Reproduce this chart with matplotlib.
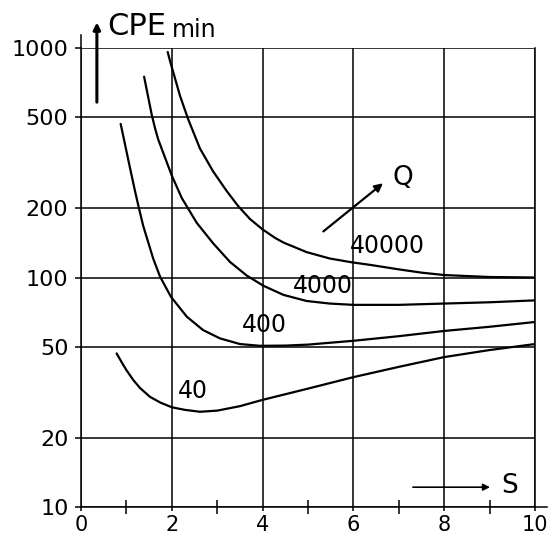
import matplotlib
matplotlib.use('Agg')
import matplotlib.pyplot as plt

# values (S on x, CPE_min on log y)
s_40 = [0.785, 0.9, 1.0, 1.15, 1.3, 1.52, 1.75, 2.0, 2.29, 2.62, 3.0, 3.5, 4.0, 5.0, 6.0, 7.0, 8.0,
        9.0, 10.0]
cpe_40 = [46.7, 42.6, 39.5, 35.8, 33.0, 30.2, 28.5, 27.2, 26.5, 26.0, 26.3, 27.5, 29.3, 32.8, 36.8,
          40.8, 45, 48.3, 51.3]

s_400 = [0.874, 1.08, 1.19, 1.26, 1.37, 1.59, 1.74, 1.98, 2.33, 2.69, 3.06, 3.5, 3.94, 4.5, 5.0, 6.0,
         7.0, 8.0, 9.0, 10.0]
cpe_400 = [467, 300, 238, 207, 168, 121, 101, 82.5, 67.5, 59, 54.3, 51.3, 50.4, 50.5, 51, 53,
           55.5, 58.5, 61, 64]

s_4000 = [1.39, 1.56, 1.63, 1.70, 2.0, 2.22, 2.55, 2.91, 3.28, 3.65, 4.02, 4.46, 4.97, 5.48, 6.0,
          7.0, 8.0, 9.0, 10.0]
cpe_4000 = [750, 510, 448, 400, 278, 222, 173, 141, 117, 102, 92, 84, 79, 77, 76,
            76, 77, 78, 79.5]

s_40000 = [1.91, 1.96, 2.18, 2.36, 2.62, 2.91, 3.21, 3.46, 3.72, 4.0, 4.27, 4.46, 4.97, 5.48, 5.96,
           6.37, 7.0, 7.5, 8.0, 9.0, 10.0]
cpe_40000 = [961, 880, 620, 490, 365, 290, 238, 205, 180, 162, 149, 142, 129, 121, 116.5,
             113.5, 108.5, 105, 102.5, 100.5, 100]

curve_labels = ['40', '400', '4000', '40000']
label_pos = [(2.47, 32), (4.05, 62), (5.33, 92), (6.74, 137)]

y_ticks = [10, 20, 50, 100, 200, 500, 1000]
x_ticks = [0, 2, 4, 6, 8, 10]
x_minor = [1, 3, 5, 7, 9]

fig = plt.figure(figsize=(5.57, 5.40), dpi=100)
ax = fig.add_axes([0.1454, 0.0611, 0.8151, 0.85])

for s, cpe in [(s_40, cpe_40), (s_400, cpe_400), (s_4000, cpe_4000), (s_40000, cpe_40000)]:
    ax.plot(s, cpe, color='black', lw=1.6, solid_capstyle='round', solid_joinstyle='round')

for text, (x, y) in zip(curve_labels, label_pos):
    ax.text(x, y, text, fontsize=17, ha='center', va='center')

ax.set_yscale('log')
ax.set_xlim(0, 10)
ax.set_ylim(10, 1000)
ax.set_yticks(y_ticks)
ax.set_yticklabels([str(v) for v in y_ticks])
ax.yaxis.set_minor_locator(matplotlib.ticker.NullLocator())
ax.set_xticks(x_ticks)
ax.set_xticks(x_minor, minor=True)

ax.grid(which='major', color='black', lw=1.1)
ax.set_axisbelow(True)
for sp in ax.spines.values():
    sp.set_linewidth(1.1)
ax.spines['top'].set_visible(False)

ax.tick_params(axis='y', which='major', direction='out', length=4, width=1.1, pad=5, labelsize=16)
ax.tick_params(axis='x', which='major', direction='out', length=3, width=1.1, pad=3, labelsize=15)
ax.tick_params(axis='x', which='minor', direction='inout', length=10, width=1.1)

# axis lines running past the frame
ax.plot([0, 0], [1000, 1140], color='black', lw=1.1, clip_on=False)
ax.plot([10, 10.26], [10, 10], color='black', lw=1.1, clip_on=False)

# axis captions with arrows
ax.annotate('', xy=(0.35, 1330), xytext=(0.35, 565), annotation_clip=False,
            arrowprops=dict(arrowstyle='-|>', color='black', lw=2.2, mutation_scale=10))
ax.text(0.57, 1140, 'CPE', fontsize=22, ha='left', va='baseline', clip_on=False)
ax.text(2.0, 1115, 'min', fontsize=17, ha='left', va='baseline', clip_on=False)

ax.annotate('', xy=(6.7, 262), xytext=(5.29, 156),
            arrowprops=dict(arrowstyle='-|>', color='black', lw=1.6, mutation_scale=12))
ax.text(7.1, 272, 'Q', fontsize=19, ha='center', va='center')

ax.annotate('', xy=(9.07, 12.2), xytext=(7.25, 12.2),
            arrowprops=dict(arrowstyle='-|>', color='black', lw=1.2, mutation_scale=10))
ax.text(9.45, 12.4, 'S', fontsize=19, ha='center', va='center')

fig.savefig('out.png', dpi=100)
